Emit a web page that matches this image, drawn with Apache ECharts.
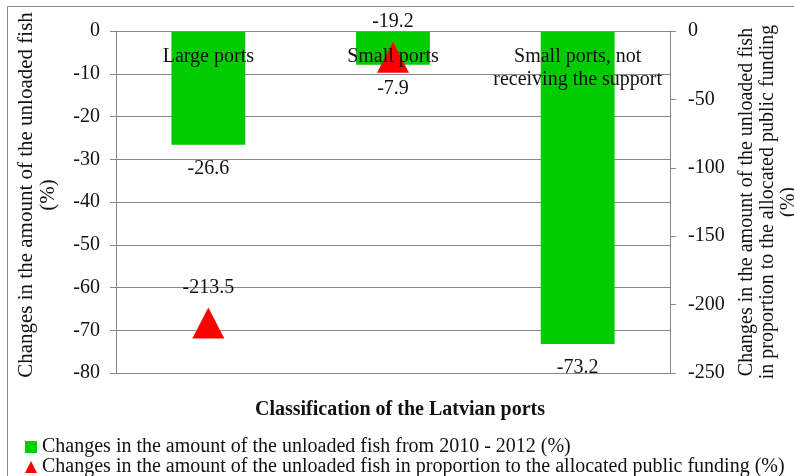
<!DOCTYPE html>
<html>
<head>
<meta charset="utf-8">
<script src="https://cdn.jsdelivr.net/npm/echarts@6/dist/echarts.min.js"></script>
<style>
html,body{margin:0;padding:0;background:#fff;}
#chart{width:794px;height:476px;}
</style>
</head>
<body>
<div id="chart"></div>
<script>
var categories = ['Large ports', 'Small ports', 'Small ports, not\nreceiving the support'];
var fishChange = [-26.6, -7.9, -73.2];
var fundingChange = [-213.5, -19.2, null];
var leftTicks = {min: -80, max: 0, interval: 10};
var rightTicks = {min: -250, max: 0, interval: 50};
var seriesNames = [
  'Changes in the amount of the unloaded fish from 2010 - 2012 (%)',
  'Changes in the amount of the unloaded fish in proportion to the allocated public funding (%)'
];

var FONT = '"Liberation Serif", "Times New Roman", serif';
var GRAY = '#888888';
var TXT = '#111111';

var chart = echarts.init(document.getElementById('chart'));
chart.setOption({
  animation: false,
  textStyle: {fontFamily: FONT, fontSize: 20, color: TXT},
  grid: {left: 116, right: 124, top: 31, bottom: 103, containLabel: false, outerBoundsMode: 'none'},
  graphic: [
    {type: 'rect', shape: {x: 7.5, y: 6.5, width: 800, height: 480}, style: {fill: 'none', stroke: GRAY, lineWidth: 1}, silent: true},
    {type: 'text', x: 400, y: 410, style: {text: 'Classification of the Latvian ports', font: 'bold 20px ' + FONT, fill: TXT, textAlign: 'center', textVerticalAlign: 'middle'}}
  ],
  legend: {
    orient: 'vertical', left: 25, top: 437, padding: 0, height: 60, itemGap: 0, itemWidth: 12, itemHeight: 12,
    textStyle: {fontFamily: FONT, fontSize: 20, color: TXT, lineHeight: 20},
    data: [{name: seriesNames[0], icon: 'rect'}, {name: seriesNames[1], icon: 'triangle'}]
  },
  xAxis: {
    type: 'category', data: categories, position: 'top', z: 10,
    axisLine: {lineStyle: {color: GRAY, width: 1}},
    axisTick: {inside: true, length: 4, lineStyle: {color: GRAY}},
    axisLabel: {inside: true, margin: 14, fontFamily: FONT, fontSize: 20, color: TXT, lineHeight: 23, verticalAlign: 'top', interval: 0}
  },
  yAxis: [
    {
      type: 'value', min: leftTicks.min, max: leftTicks.max, interval: leftTicks.interval, position: 'left',
      name: 'Changes in the amount of the unloaded fish\n(%)', nameLocation: 'middle', nameRotate: 90, nameGap: 57,
      nameTextStyle: {fontFamily: FONT, fontSize: 21, color: TXT, lineHeight: 22, padding: [0, 0, 0, 14]},
      axisLine: {show: true, lineStyle: {color: GRAY, width: 1}},
      axisTick: {show: true, length: 6, lineStyle: {color: GRAY}},
      axisLabel: {margin: 16, fontFamily: FONT, fontSize: 20, color: TXT},
      splitLine: {show: true, lineStyle: {color: GRAY, width: 1}}
    },
    {
      type: 'value', min: rightTicks.min, max: rightTicks.max, interval: rightTicks.interval, position: 'right',
      name: 'Changes in the amount of the unloaded fish\nin proportion to the allocated public funding\n(%)', nameLocation: 'middle', nameRotate: 90, nameGap: 66,
      nameTextStyle: {fontFamily: FONT, fontSize: 20, color: TXT, lineHeight: 21},
      axisLine: {show: true, lineStyle: {color: GRAY, width: 1}},
      axisTick: {show: true, length: 6, lineStyle: {color: GRAY}},
      axisLabel: {margin: 18, fontFamily: FONT, fontSize: 20, color: TXT},
      splitLine: {show: false}
    }
  ],
  series: [
    {
      name: seriesNames[0], type: 'bar', yAxisIndex: 0, data: fishChange, barWidth: '40%',
      itemStyle: {color: '#00cc00'},
      label: {show: true, position: 'bottom', distance: 14, fontFamily: FONT, fontSize: 20, color: TXT}
    },
    {
      name: seriesNames[1], type: 'scatter', yAxisIndex: 1, data: fundingChange, z: 5,
      symbol: 'triangle', symbolSize: [32, 31], itemStyle: {color: '#ff0000', opacity: 1},
      label: {show: true, position: 'top', distance: 10, fontFamily: FONT, fontSize: 20, color: TXT}
    }
  ]
});
</script>
</body>
</html>
